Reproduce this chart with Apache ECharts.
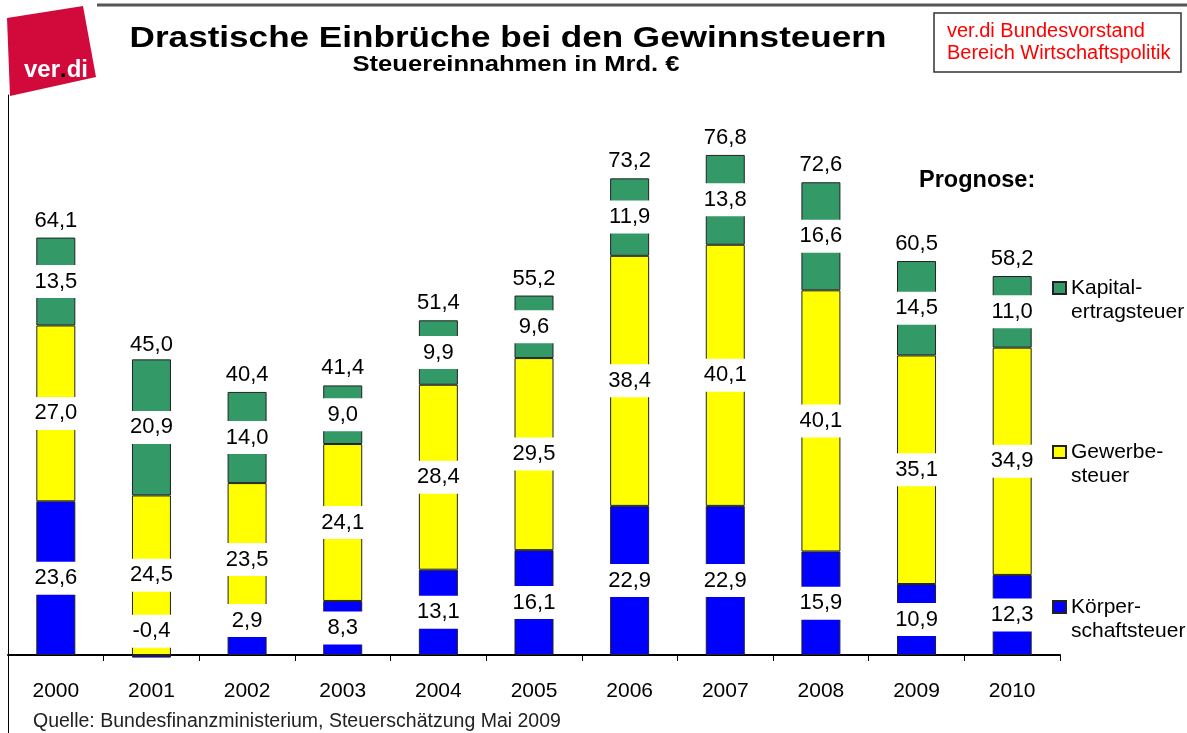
<!DOCTYPE html>
<html lang="de">
<head>
<meta charset="UTF-8">
<title>Gewinnsteuern</title>
<script src="https://cdn.jsdelivr.net/npm/echarts@6/dist/echarts.min.js"></script>
<style>html,body{margin:0;padding:0;background:#fff;}</style>
</head>
<body>
<div id="main" style="width:1187px;height:733px;"></div>
<script type="text/javascript">
// Daten (Mrd. Euro)
var jahre = ['2000', '2001', '2002', '2003', '2004', '2005', '2006', '2007', '2008', '2009', '2010'];
var koerperschaft = [23.6, -0.4, 2.9, 8.3, 13.1, 16.1, 22.9, 22.9, 15.9, 10.9, 12.3];
var gewerbe = [27.0, 24.5, 23.5, 24.1, 28.4, 29.5, 38.4, 40.1, 40.1, 35.1, 34.9];
var kapitalertrag = [13.5, 20.9, 14.0, 9.0, 9.9, 9.6, 11.9, 13.8, 16.6, 14.5, 11.0];
var summe = [64.1, 45.0, 40.4, 41.4, 51.4, 55.2, 73.2, 76.8, 72.6, 60.5, 58.2];

var font = '"Liberation Sans", Arial, sans-serif';
var myChart = echarts.init(document.getElementById('main'));

function komma(v) {
    return Number(v).toFixed(1).replace('.', ',');
}

// Beschriftung in den Segmenten, weisser Kasten
function segLabel() {
    return {
        show: true,
        position: 'inside',
        color: '#000',
        fontSize: 22,
        fontFamily: font,
        lineHeight: 26,
        width: 44,
        align: 'center',
        backgroundColor: '#fff',
        padding: [4, 1, 3, 1],
        formatter: function (p) { return komma(p.value); }
    };
}

// kleine Werte 2001/2002: Beschriftung etwas nach oben geschoben
var blauDaten = koerperschaft.map(function (v, i) {
    if (i === 1 || i === 2) {
        return { value: v, label: { offset: [0, -25] } };
    }
    return v;
});

// leere erste Zeile, damit das Symbol neben der ersten Textzeile steht
function legende(name, text, top) {
    return {
        data: [name],
        left: 1052,
        top: top,
        padding: 0,
        icon: 'rect',
        itemWidth: 13,
        itemHeight: 12,
        itemGap: 4,
        selectedMode: false,
        formatter: function () { return '\n' + text; },
        textStyle: {
            fontSize: 21,
            fontFamily: font,
            color: '#000',
            lineHeight: 24
        }
    };
}

var rahmen = { borderColor: '#222', borderWidth: 1 };

myChart.setOption({
    animation: false,
    legend: [
        legende('Kapitalertragsteuer', 'Kapital-\nertragsteuer', 252),
        legende('Gewerbesteuer', 'Gewerbe-\nsteuer', 416),
        legende('Körperschaftsteuer', 'Körper-\nschaftsteuer', 571)
    ],
    grid: { left: 8, right: 127, top: 95, bottom: 78 },
    xAxis: {
        type: 'category',
        data: jahre,
        axisLine: { lineStyle: { color: '#000', width: 2 } },
        axisTick: { show: true, length: 6, lineStyle: { color: '#000', width: 1 } },
        axisLabel: { fontSize: 21, fontFamily: font, color: '#000', margin: 26 }
    },
    yAxis: {
        type: 'value',
        min: 0,
        max: 86,
        axisLine: { show: true, lineStyle: { color: '#000', width: 1 } },
        axisTick: { show: false },
        axisLabel: { show: false },
        splitLine: { show: false }
    },
    graphic: [
        { type: 'line', shape: { x1: 97, y1: 5, x2: 1187, y2: 5 }, style: { stroke: '#555', lineWidth: 3 } },
        { type: 'line', shape: { x1: 8.5, y1: 655, x2: 8.5, y2: 733 }, style: { stroke: '#000', lineWidth: 1 } },
        { type: 'polygon', shape: { points: [[7, 18], [83, 6], [96, 77], [10, 96]] }, style: { fill: '#d20a3c' } },
        {
            type: 'text', x: 24, y: 70,
            style: {
                text: '{w|ver}{k|.}{w|di}',
                verticalAlign: 'middle',
                rich: {
                    w: { fill: '#fff', fontSize: 24, fontWeight: 'bold', fontFamily: font },
                    k: { fill: '#000', fontSize: 24, fontWeight: 'bold', fontFamily: font }
                }
            }
        },
        {
            type: 'text', x: 508, y: 39, scaleX: 1.17,
            style: {
                text: 'Drastische Einbrüche bei den Gewinnsteuern',
                fill: '#000', fontSize: 30, fontWeight: 'bold', fontFamily: font,
                align: 'center', verticalAlign: 'middle'
            }
        },
        {
            type: 'text', x: 516, y: 65, scaleX: 1.19,
            style: {
                text: 'Steuereinnahmen in Mrd. €',
                fill: '#000', fontSize: 21.5, fontWeight: 'bold', fontFamily: font,
                align: 'center', verticalAlign: 'middle'
            }
        },
        { type: 'rect', shape: { x: 934, y: 13, width: 247, height: 59 }, style: { fill: '#fff', stroke: '#333', lineWidth: 1.5 } },
        {
            type: 'text', x: 947, y: 20,
            style: { text: 'ver.di Bundesvorstand\nBereich Wirtschaftspolitik', fill: '#ff0000', fontSize: 20, lineHeight: 22, fontFamily: font }
        },
        {
            type: 'text', x: 919, y: 181,
            style: { text: 'Prognose:', fill: '#000', fontSize: 23.5, fontWeight: 'bold', fontFamily: font, verticalAlign: 'middle' }
        },
        {
            type: 'text', x: 33, y: 722,
            style: { text: 'Quelle: Bundesfinanzministerium, Steuerschätzung Mai 2009', fill: '#222', fontSize: 19.5, fontFamily: font, verticalAlign: 'middle' }
        }
    ],
    series: [{
        name: 'Körperschaftsteuer',
        type: 'bar',
        stack: 'steuern',
        barWidth: 39,
        barGap: '-100%',
        clip: false,
        itemStyle: Object.assign({ color: '#0000ff' }, rahmen),
        label: segLabel(),
        data: blauDaten
    }, {
        name: 'Gewerbesteuer',
        type: 'bar',
        stack: 'steuern',
        barWidth: 39,
        barGap: '-100%',
        itemStyle: Object.assign({ color: '#ffff00' }, rahmen),
        label: segLabel(),
        data: gewerbe
    }, {
        name: 'Kapitalertragsteuer',
        type: 'bar',
        stack: 'steuern',
        barWidth: 39,
        barGap: '-100%',
        itemStyle: Object.assign({ color: '#339966' }, rahmen),
        label: segLabel(),
        data: kapitalertrag
    }, {
        // Gesamtsumme ueber dem Stapel
        name: 'Summe',
        type: 'bar',
        barWidth: 39,
        barGap: '-100%',
        silent: true,
        z: 1,
        itemStyle: { color: 'rgba(0,0,0,0)' },
        label: {
            show: true,
            position: 'top',
            distance: 6,
            color: '#000',
            fontSize: 22,
            fontFamily: font,
            formatter: function (p) { return komma(p.value); }
        },
        data: summe
    }]
});
</script>
</body>
</html>
